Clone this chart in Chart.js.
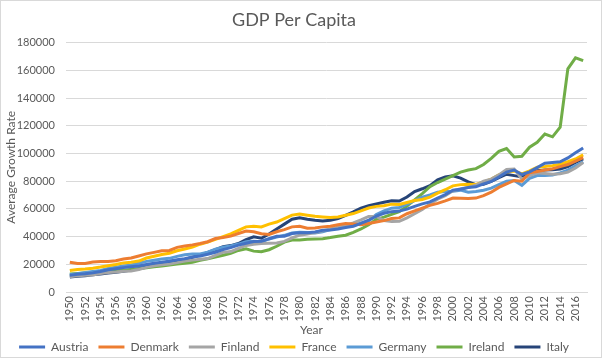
<!DOCTYPE html>
<html>
<head>
<meta charset="utf-8">
<script src="https://cdn.jsdelivr.net/npm/chart.js@4"></script>
<style>
    body { margin: 0; background: #fff; }
    #wrap { width: 602px; height: 358px; box-sizing: border-box; border: 1px solid #d9d9d9; }
</style>
</head>
<body>
<div id="wrap"><canvas id="gdpChart"></canvas></div>
<script>
// Years 1950 - 2017
const years = [];
for (let y = 1950; y <= 2017; y++) years.push(String(y));

const austria = [12000, 12800, 13200, 13800, 14800, 16000, 16800, 17600, 18200, 18800,
    19800, 20800, 21400, 22200, 23300, 24000, 25200, 26000, 27200, 28700,
    30600, 32000, 33800, 35200, 36500, 36600, 38400, 40200, 40300, 42200,
    42800, 42800, 43300, 44500, 44700, 45500, 46500, 47500, 49500, 51800,
    54800, 56800, 58000, 58400, 59800, 61800, 63600, 65000, 67800, 70200,
    73500, 74200, 75400, 75900, 78000, 79800, 83000, 86500, 88000, 84800,
    86700, 89800, 93000, 93500, 94000, 96800, 100500, 104000];

const denmark = [21500, 20500, 20600, 21600, 22000, 22000, 22600, 23800, 24500, 26000,
    27500, 28600, 29800, 30000, 32200, 33200, 34000, 35000, 36300, 38600,
    39400, 40300, 42200, 44000, 43500, 42000, 41500, 43500, 45000, 47000,
    47500, 46000, 46200, 47000, 47500, 48500, 49500, 49000, 48500, 49500,
    50500, 51500, 53000, 53500, 56500, 58500, 60500, 62500, 64000, 65800,
    67800, 67600, 67500, 67800, 69500, 72000, 75500, 78000, 80500, 80000,
    86000, 87000, 88000, 89000, 90500, 92000, 94500, 97000];

const finland = [11000, 11800, 12100, 12300, 13300, 14000, 14400, 15000, 15200, 16300,
    17800, 19000, 19600, 20200, 21200, 22300, 23000, 23600, 24100, 26500,
    28600, 29200, 31500, 33600, 34500, 35000, 35200, 35400, 36500, 39000,
    41000, 41800, 43000, 44200, 45500, 46800, 48000, 49800, 52000, 54500,
    54500, 51500, 50800, 51000, 53500, 56500, 59500, 63500, 67000, 69500,
    73000, 74500, 75500, 77000, 80000, 81500, 84500, 88500, 88800, 81500,
    84000, 86000, 85500, 85000, 85300, 86500, 89500, 93500];

const france = [15500, 16300, 16600, 17200, 18000, 19000, 19800, 21000, 21500, 22300,
    24500, 25800, 27000, 28000, 29800, 31000, 32500, 34500, 36000, 38000,
    40000, 42000, 44500, 47000, 47500, 47000, 49000, 50500, 53000, 55500,
    56200, 55400, 54600, 54200, 53700, 54200, 55400, 56600, 58600, 60600,
    61800, 62200, 63400, 63200, 64600, 66000, 66800, 68500, 71400, 73800,
    76600, 77500, 77800, 77600, 79500, 81500, 84500, 86600, 87400, 85200,
    87500, 90000, 90500, 91200, 92200, 94000, 96000, 99000];

const germany = [12500, 13200, 14000, 14800, 15600, 16900, 17900, 18800, 19500, 20800,
    22100, 22900, 23800, 24300, 25700, 26900, 27500, 27400, 28800, 30900,
    32300, 33200, 34600, 36300, 36600, 36300, 38300, 39600, 40900, 42600,
    43100, 43000, 42600, 43500, 45000, 46100, 47200, 48000, 49600, 51300,
    56000, 58500, 60500, 61000, 63500, 66000, 68500, 70000, 72000, 72500,
    72800, 73500, 72000, 72500, 73500, 75000, 77500, 80000, 80500, 77000,
    82000, 84000, 84000, 84500, 86000, 88000, 91000, 94000];

const ireland = [13000, 13300, 13700, 14200, 14600, 15000, 15300, 15700, 16200, 16800,
    17500, 18200, 18800, 19500, 20200, 20800, 21500, 22800, 24000, 25200,
    26500, 28000, 30000, 31200, 29500, 29000, 30500, 33000, 36000, 37500,
    37600, 38000, 38300, 38500, 39300, 40300, 41000, 43000, 45500, 48500,
    52500, 54000, 56000, 58000, 62000, 66500, 71000, 76000, 79000, 81500,
    84000, 86500, 88000, 89000, 92000, 96500, 101500, 103500, 97500, 98000,
    104500, 108000, 114000, 112000, 119000, 161000, 169000, 167000];

const italy = [10800, 11400, 11800, 12500, 13000, 13700, 14300, 15000, 15800, 16800,
    18000, 19500, 20800, 22000, 22800, 23600, 25000, 26800, 28500, 30500,
    32600, 33500, 35000, 37800, 39800, 38800, 41800, 45500, 49000, 52500,
    53500, 52500, 51800, 51300, 51800, 53000, 55300, 57800, 60500, 62300,
    63500, 64800, 65800, 65600, 68500, 72500, 74500, 76800, 81000, 83000,
    83800, 82200, 79500, 77500, 77800, 79800, 82500, 85000, 84000, 83000,
    86500, 87500, 88000, 88200, 88800, 90500, 93500, 96000];

const series = [
    { label: 'Austria', data: austria, color: '#4472C4' },
    { label: 'Denmark', data: denmark, color: '#ED7D31' },
    { label: 'Finland', data: finland, color: '#A5A5A5' },
    { label: 'France', data: france, color: '#FFC000' },
    { label: 'Germany', data: germany, color: '#5B9BD5' },
    { label: 'Ireland', data: ireland, color: '#70AD47' },
    { label: 'Italy', data: italy, color: '#264478' }
];

const textColor = '#595959';
const fontFamily = 'Lato, "Liberation Sans", sans-serif';

// Excel puts the "Year" caption a bit left of the plot centre
const yearTitle = {
    id: 'yearTitle',
    afterDraw(chart) {
        const c = chart.ctx;
        const area = chart.chartArea;
        c.save();
        c.fillStyle = textColor;
        c.font = '12px ' + fontFamily;
        c.textAlign = 'center';
        c.textBaseline = 'middle';
        c.fillText('Year', (area.left + area.right) / 2 - 15, area.bottom + 38);
        c.restore();
    }
};

const ctx = document.getElementById('gdpChart').getContext('2d');
new Chart(ctx, {
    type: 'line',
    data: {
        labels: years,
        datasets: series.map(s => ({
            label: s.label,
            data: s.data,
            borderColor: s.color,
            backgroundColor: s.color,
            borderWidth: 3,
            pointRadius: 0,
            tension: 0,
            fill: false
        }))
    },
    options: {
        responsive: true,
        maintainAspectRatio: false,
        animation: false,
        layout: {
            padding: { left: 0, right: 14, top: 0, bottom: -6 }
        },
        plugins: {
            title: {
                display: true,
                text: 'GDP Per Capita',
                color: textColor,
                font: { family: fontFamily, size: 18, weight: 'normal' },
                padding: { top: 8, bottom: 12 }
            },
            legend: {
                position: 'bottom',
                labels: {
                    color: textColor,
                    font: { family: fontFamily, size: 12 },
                    boxWidth: 26,
                    boxHeight: 3,
                    padding: 10,
                    generateLabels: function(chart) {
                        return Chart.defaults.plugins.legend.labels.generateLabels(chart).map(item => {
                            item.lineWidth = 0;
                            item.fillStyle = item.strokeStyle;
                            return item;
                        });
                    }
                }
            },
            tooltip: { enabled: false }
        },
        scales: {
            x: {
                offset: true,
                grid: { display: false, drawTicks: false },
                border: { color: '#d9d9d9' },
                afterFit: function(scale) { scale.height = 39; },
                ticks: {
                    autoSkip: false,
                    maxRotation: 90,
                    minRotation: 90,
                    padding: 4,
                    color: textColor,
                    font: { family: fontFamily, size: 11 },
                    callback: function(value, index) {
                        return index % 2 === 0 ? this.getLabelForValue(value) : '';
                    }
                }
            },
            y: {
                min: 0,
                max: 180000,
                grid: { color: '#d9d9d9', drawTicks: false },
                border: { display: false },
                afterFit: function(scale) { scale.width = 65; },
                ticks: {
                    stepSize: 20000,
                    padding: 11,
                    color: textColor,
                    font: { family: fontFamily, size: 11 },
                    callback: function(value) { return String(value); }
                },
                title: {
                    display: true,
                    text: 'Average Growth Rate',
                    color: textColor,
                    font: { family: fontFamily, size: 12 },
                    padding: { top: 3, bottom: 0 }
                }
            }
        }
    },
    plugins: [yearTitle]
});
</script>
</body>
</html>
